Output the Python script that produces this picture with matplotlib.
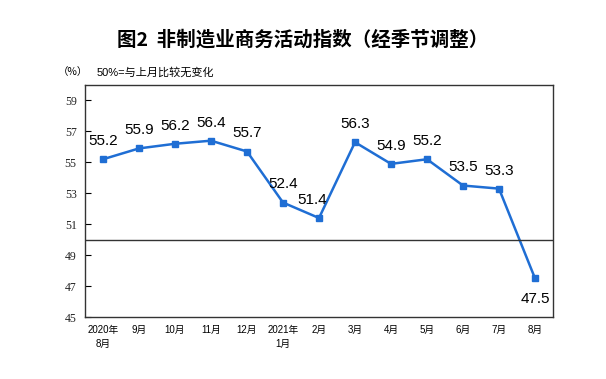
import matplotlib
matplotlib.use("Agg")
import matplotlib.pyplot as plt

months = ["2020年\n8月", "9月", "10月", "11月", "12月", "2021年\n1月", "2月", "3月",
          "4月", "5月", "6月", "7月", "8月"]
values = [55.2, 55.9, 56.2, 56.4, 55.7, 52.4, 51.4, 56.3, 54.9, 55.2, 53.5, 53.3, 47.5]
yticks = [45, 47, 49, 51, 53, 55, 57, 59]

plt.rcParams['font.family'] = ['Liberation Serif', 'Noto Sans CJK SC']

fig = plt.figure(figsize=(6.06, 3.79), dpi=100)
ax = fig.add_axes([85/606, 1-317/379, (553-85)/606, (317-85)/379])

x = list(range(len(values)))
color = '#1F6ED4'
ax.plot(x, values, color=color, lw=1.8, marker='s', ms=4, mfc=color, mec=color)
ax.axhline(50, color='#333333', lw=1)

ax.set_xlim(-0.5, len(values) - 0.5)
ax.set_ylim(45, 60)
ax.set_yticks(yticks)
ax.set_yticklabels([str(t) for t in yticks], fontsize=8.5, color='#222222')
ax.tick_params(axis='y', direction='in', length=4, width=0.8, pad=6)
ax.set_xticks(x)
ax.set_xticklabels(months, fontsize=7, family=['Liberation Sans', 'Noto Sans CJK SC'], linespacing=1.4)
ax.tick_params(axis='x', length=0, pad=6)
for s in ax.spines.values():
    s.set_color('#333333')
    s.set_linewidth(1)

min_idx = values.index(min(values[:-1]))
for i, v in enumerate(values):
    if i == len(values) - 1:
        dx, dy = 0, -20
    elif i == min_idx:
        dx, dy = -5, 8
    else:
        dx, dy = 0, 8
    ax.annotate(f"{v}", (i, v), xytext=(dx, dy), textcoords='offset points',
                ha='center', va='bottom', fontsize=11, family='Liberation Sans')

fig.text(0.5, 1-40/379, "图2  非制造业商务活动指数（经季节调整）", ha='center', va='center',
         fontsize=14, fontweight='bold', family=['Noto Sans CJK SC'])
fig.text(58/606, 1-72/379, "（%）", ha='left', va='center', fontsize=7.5,
         family=['Noto Sans CJK SC'])
fig.text(97/606, 1-72/379, "50%=与上月比较无变化", ha='left', va='center', fontsize=8,
         family=['Liberation Sans', 'Noto Sans CJK SC'])

fig.savefig("out.png", dpi=100)
